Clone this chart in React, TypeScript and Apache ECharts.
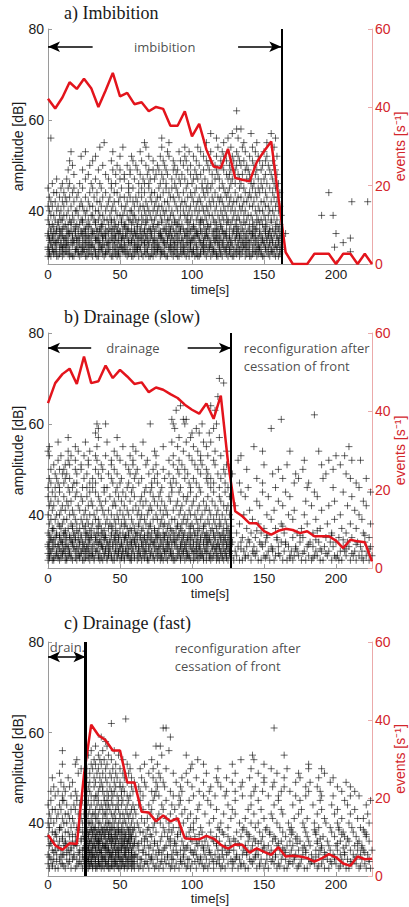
import React, { useEffect, useRef } from "react";
import * as echarts from "echarts";

// ---------- data ----------
const rateTimes = [0,5,10,15,20,25,30,35,40,45,50,55,60,65,70,75,80,85,90,95,100,105,110,115,120,125,130,135,140,145,150,155,160,165,170,175,180,185,190,195,200,205,210,215,220,225];

const rateA = [42.2,39.7,42.5,46.4,44.7,47.3,44.9,40.1,44.3,48.8,42.8,43.7,40.8,41.3,39,40.1,39.6,35.3,35.3,39,32.6,35.8,29.2,24.9,24.5,29.4,22,21.5,21.1,26,28.8,31.3,17,3,0,0,0,2.6,2.6,2.6,0,2.6,2.6,0,2.6,0];
const rateB = [42.1,47.2,49.5,50.9,47,54,47.2,47.7,51.7,48.5,50.6,48.9,47,47.4,44.9,46.1,45.5,44.4,43.4,41.7,40.4,39.4,42,38.1,44,27,14.5,13.2,11.4,11.4,9.4,8.5,9.5,10,9.7,8.9,9.4,8.1,8.1,8.1,7,5.1,7.2,6.8,6.6,1.7];
const rateC = [10.5,7.9,6.7,8.4,8.2,26,38.8,36.1,34.8,32.2,32.2,24,24,16.5,16.3,14,15.5,14,14.8,9.7,9.5,9.4,10.3,9.6,8,7,8.1,8,6,7.1,6.2,5.4,7.4,5,5.2,5,4.6,3.7,4.5,5.6,4.8,3.2,2.6,5,4.3,4.4];

// amplitude [dB] -> times [s] of the recorded events
const scatterRowsA: [number, number[]][] = [
[30,[0,2,6,7,10,15,17,18,22,26,27,31,34,35,39,44,45,48,50,55,58,59,63,66,70,71,73,78,82,83,87,90,91,96,98,102,104,105,110,113,117,118,121,125,128,129,133,137,140,141,145,149,150,154,158,160]],
[30.5,[1,4,8,11,14,16,21,23,28,30,33,38,40,43,47,49,54,56,60,65,68,72,75,79,81,86,89,93,95,100,103,106,109,114,117,120,124,127,131,134,138,142,146,148,153,157,161]],
[31,[1,4,5,9,12,13,19,21,24,25,29,33,36,40,41,46,49,52,53,57,61,62,67,69,74,76,79,80,85,88,92,94,97,100,101,106,108,111,115,116,120,123,126,130,132,135,139,143,144,148,152,155,156,161,210]],
[31.5,[0,3,6,10,15,19,20,25,27,32,35,37,42,45,48,52,55,59,62,64,69,73,76,78,84,87,90,94,98,101,104,108,112,115,119,123,126,129,133,137,140,145,147,151,155,159,162]],
[32,[0,3,8,10,11,14,20,23,24,28,30,32,37,38,43,47,50,51,54,60,62,64,68,72,75,77,81,84,86,89,93,95,99,103,107,109,112,114,119,122,124,127,131,134,136,138,142,146,147,151,153,157,159,162,199]],
[32.5,[2,5,9,12,13,17,22,26,29,31,36,39,41,46,50,53,57,61,63,67,70,74,77,82,85,88,92,96,99,103,107,110,113,118,121,125,128,132,136,139,143,146,150,154,158,161]],
[33,[2,5,6,9,13,16,18,21,25,27,30,35,36,41,42,45,48,53,56,58,60,65,67,70,73,76,80,81,85,88,90,94,97,99,102,106,108,113,116,118,121,125,127,132,135,137,140,144,148,150,154,156,160,205]],
[33.5,[1,4,7,11,14,18,20,24,28,33,34,38,43,46,49,51,56,58,62,66,69,73,75,80,83,87,91,93,98,100,105,108,112,116,119,122,127,130,134,138,141,145,149,152,156,160]],
[34,[1,3,7,11,12,17,20,22,26,29,33,34,38,40,44,47,51,52,55,59,63,64,68,71,74,78,79,83,86,89,93,96,100,101,105,109,111,115,117,120,124,126,130,133,136,139,143,146,149,152,155,159,161,210]],
[34.5,[0,3,8,10,13,17,21,25,27,30,35,38,40,45,47,52,54,59,61,65,68,72,77,79,84,86,90,95,97,102,104,109,111,116,118,123,126,131,133,137,142,144,148,153,155,159,162]],
[35,[0,4,5,9,14,15,19,23,24,28,31,32,37,39,42,46,49,50,54,57,61,62,66,69,72,77,78,82,84,88,91,95,98,103,104,107,110,114,119,122,123,128,131,134,138,141,142,147,151,153,157,162,165,200]],
[35.5,[2,6,9,14,16,19,23,26,31,34,36,41,44,48,50,55,58,60,64,67,71,74,78,82,85,89,92,96,99,103,106,110,115,117,121,124,129,132,136,140,143,147,151,154,158,161]],
[36,[2,6,8,10,13,18,21,25,26,30,34,36,40,43,45,48,52,55,56,60,64,67,70,71,75,80,81,85,87,92,94,97,100,102,106,109,112,116,118,121,126,129,132,135,139,144,145,150,154,156,160]],
[36.5,[4,11,19,28,37,46,53,62,73,84,91,101,111,120,131,142,151,159]],
[37,[1,3,7,12,14,16,20,22,27,29,33,37,38,42,47,49,53,54,58,62,65,68,73,76,77,82,86,89,90,93,98,101,105,108,111,113,117,120,124,127,130,134,137,140,143,147,149,152,158,161]],
[37.5,[7,16,24,33,44,51,59,68,79,88,97,106,116,125,136,145,155]],
[38,[0,5,9,10,15,18,23,24,28,32,35,39,41,44,46,51,56,57,61,63,66,69,72,74,79,83,84,88,91,96,99,103,106,107,110,115,119,122,125,128,131,133,138,142,146,148,151,155,159]],
[39,[2,4,8,11,13,17,21,26,30,31,36,38,43,48,50,52,55,59,60,65,68,71,75,78,81,85,87,92,95,97,100,104,109,112,114,118,121,124,129,132,136,139,141,145,150,153,157,162,190,198]],
[40,[1,6,9,14,19,20,25,27,33,35,40,44,47,53,57,58,63,67,70,73,76,80,82,86,90,94,98,102,105,108,111,116,120,123,127,130,134,137,144,147,149,154,156,160]],
[41,[0,3,7,11,16,22,24,29,31,37,41,45,51,54,60,64,66,69,74,77,79,84,89,92,96,99,103,107,110,113,117,122,125,128,133,135,140,142,146,151,153,158,161]],
[42,[2,5,10,13,18,23,28,34,36,42,46,49,55,59,62,68,72,75,81,83,88,93,95,101,104,106,112,115,119,121,126,129,131,136,138,143,148,150,155,159,211,222]],
[43,[1,8,12,15,20,26,32,38,43,50,53,57,61,65,71,76,78,85,87,91,97,100,105,109,114,118,120,124,127,132,134,139,141,145,152,157,160]],
[44,[4,6,11,17,21,29,34,40,46,48,56,63,67,72,74,80,84,90,94,99,102,108,111,116,123,125,130,137,140,144,147,151,156,161,195]],
[45,[0,9,14,18,24,31,37,44,51,56,59,65,70,77,82,86,89,96,103,107,110,113,119,122,126,133,136,142,146,149,154,158]],
[46,[3,10,15,22,30,36,44,47,56,63,67,70,78,82,88,92,97,100,107,111,114,121,127,130,134,141,143,148,152,157,160]],
[47,[6,13,26,33,42,50,53,60,66,71,74,80,86,91,95,101,104,109,116,119,125,128,133,138,141,146,150,156]],
[48,[18,28,40,47,53,57,64,69,75,79,83,89,93,99,103,106,114,118,124,126,132,135,140,144,151,155,159]],
[49,[14,24,35,45,50,57,62,70,73,77,82,87,90,97,102,108,112,117,122,127,130,137,139,145,148,154,158]],
[50,[17,29,38,48,55,61,68,76,81,88,94,99,105,111,116,121,126,131,134,138,143,149,153,157]],
[51,[15,31,44,59,65,73,80,87,92,96,103,110,113,120,124,129,133,136,142,147,151,156]],
[52,[23,33,50,58,70,78,84,95,101,108,117,122,128,132,140,146,152,159]],
[53,[16,26,45,64,83,91,98,106,113,121,131,137,144,150]],
[54,[36,52,68,79,95,104,118,127,135,142,157]],
[55,[39,67,84,110,122,136,145,152]],
[56,[2,79,117,125,132,158]],
[57,[113,128,141,155]],
[58,[131,134]],
[62,[131]],
];

const scatterRowsB: [number, number[]][] = [
[30,[0,3,4,8,12,13,17,20,24,25,29,32,36,38,41,45,46,50,53,57,58,62,65,69,70,74,78,80,83,87,88,92,95,99,101,104,108,110,113,117,119,122,125,129,133,135,141,146,148,154,157,163,166,170,176,179,183,189,191,197,202,204,210,214,219,223]],
[30.5,[1,4,7,9,13,16,19,22,26,28,32,35,37,41,44,48,51,53,57,60,63,67,69,73,76,79,82,86,89,92,96,98,102,105,108,112,114,118,121,124,127,137,151,168,184,200,218]],
[31,[1,5,7,10,14,16,21,22,27,30,31,35,39,42,44,48,51,55,56,60,64,66,71,73,77,79,84,86,90,93,97,98,103,106,107,112,115,118,121,124,127,131,137,139,144,150,152,158,161,168,171,174,181,185,187,194,199,201,207,212,216,221,225]],
[31.5,[0,2,6,10,12,15,20,23,25,29,31,36,39,42,46,49,52,55,58,62,64,68,71,75,78,81,85,87,91,94,97,101,104,107,110,113,117,120,123,126,143,160,177,193,211]],
[32,[2,6,9,11,15,19,23,26,28,33,34,40,43,47,49,52,54,59,63,67,68,72,76,81,82,85,91,94,96,100,102,105,109,111,116,120,123,126,130,136,142,145,153,156,164,169,173,178,186,190,195,203,206,213,218,222]],
[32.5,[1,3,8,11,14,18,21,24,27,30,34,38,40,43,47,50,54,56,59,63,66,70,74,77,80,83,86,90,93,96,100,103,106,109,114,116,119,122,125,134,156,172,189,207,223]],
[33,[0,4,7,12,14,18,20,25,27,31,37,38,42,45,50,52,57,61,63,66,70,75,77,80,84,89,92,95,99,103,105,110,114,117,119,124,126,132,138,143,149,155,160,167,172,180,184,192,198,205,209,217,224]],
[33.5,[0,5,7,10,13,17,22,25,28,32,35,37,41,45,48,51,55,58,61,65,68,71,73,78,82,84,88,92,95,98,101,105,108,111,115,118,121,124,127,148,165,181,214]],
[34,[1,3,9,10,16,17,22,24,29,34,36,41,43,47,51,55,58,60,65,68,73,74,79,83,86,88,93,96,101,104,108,111,113,118,122,125,128,134,140,147,151,162,165,175,182,188,196,200,208,215,220]],
[34.5,[2,4,9,12,16,19,21,26,29,33,36,39,43,46,49,53,57,60,62,66,69,72,76,80,83,87,89,93,97,99,103,106,110,112,116,120,123,126,139,159,186,205]],
[35,[2,5,8,13,15,19,23,28,30,33,39,40,46,49,53,54,59,64,67,71,75,78,81,85,90,94,97,100,106,109,112,116,120,123,127,135,144,152,159,170,177,193,202,211,223]],
[35.5,[1,6,8,11,15,18,23,27,30,34,37,40,44,47,50,54,56,61,64,67,70,75,77,81,84,88,91,94,98,102,104,109,111,115,119,122,125,152,175,197,220]],
[36,[0,6,11,12,18,21,26,27,32,35,38,44,48,52,56,61,62,69,72,76,80,82,87,91,95,99,102,107,110,115,118,121,126,131,141,148,164,173,184,197,207,219]],
[36.5,[3,12,20,29,39,47,58,65,74,86,93,104,113,124,145,187]],
[37,[3,4,9,14,17,22,25,30,34,37,42,45,50,55,57,60,66,70,74,77,83,85,89,92,98,101,105,108,114,117,122,125,138,150,158,176,189,204,214]],
[37.5,[8,17,26,35,44,53,63,71,80,90,99,108,119,127,163]],
[38,[1,7,10,16,20,24,28,31,36,40,43,47,51,54,59,63,68,71,78,81,84,90,93,96,100,104,109,112,116,120,124,133,146,162,180,194,210,224]],
[39,[2,5,11,13,19,23,27,33,35,41,46,49,53,58,64,67,73,76,79,86,88,94,97,103,106,111,115,119,123,127,142,155,170,186,199,218]],
[40,[0,6,8,15,18,25,29,32,39,44,48,52,56,62,65,69,75,80,83,91,95,99,102,107,113,117,121,126,136,152,167,178,203,216]],
[41,[3,9,12,17,22,26,34,38,42,50,55,59,63,70,72,78,82,87,92,98,104,109,112,118,124,140,157,171,190,213]],
[42,[1,4,10,14,21,28,31,37,45,47,53,61,66,71,76,81,89,93,100,105,110,116,122,125,130,147,163,183,195,208,221]],
[43,[2,7,13,16,24,30,36,40,46,51,57,64,68,74,79,85,90,96,101,108,114,120,145,160,179,199,219]],
[44,[0,5,11,19,23,27,35,43,49,54,60,65,73,77,84,94,97,103,111,119,126,137,153,168,187,211]],
[45,[3,8,15,20,29,33,39,47,52,58,67,71,78,86,91,99,106,115,123,134,149,165,185,205,224]],
[46,[0,5,8,14,17,24,27,31,39,41,48,55,59,68,72,79,86,92,99,105,113,119,125,139,158,180,198,216]],
[47,[2,7,11,18,20,29,33,45,50,56,63,72,76,85,89,98,103,111,115,123,133,149,171,181,214]],
[48,[1,6,12,15,25,31,37,44,51,60,65,74,81,87,95,101,110,113,120,145,163,174,191,210,221]],
[49,[5,10,13,20,27,35,42,48,57,61,70,76,84,91,97,106,111,118,123,128,156,172,193,207]],
[50,[2,8,11,19,23,33,38,46,56,62,73,80,90,95,104,110,122,138,160,177,198]],
[51,[4,12,15,23,28,37,44,54,59,68,75,87,93,102,107,116,124,150,166,190,203]],
[52,[7,14,19,28,34,44,50,59,69,84,91,100,106,115,132,178,195,211,217]],
[53,[1,9,16,25,33,40,48,57,65,75,87,98,106,111,120,134,200,206]],
[54,[0,14,21,29,46,61,74,94,104,116,124,149,168,188]],
[55,[1,19,34,52,59,80,90,101,110,143,209]],
[56,[7,26,41,66,86,96,108,113]],
[57,[14,35,48,91,99,119]],
[58,[33,100,105,112]],
[59,[35,88,103,115,155]],
[60,[34,40,71,87,95,107,117]],
[61,[86,94,96,162]],
[62,[185]],
[63,[89,116]],
[64,[92,113]],
[66,[118]],
[69,[122]],
[70,[119]],
];

const scatterRowsC: [number, number[]][] = [
[30,[1,5,7,12,16,19,24,27,28,31,33,34,37,39,42,43,46,49,50,53,55,58,60,63,66,70,74,77,80,85,88,91,96,99,103,108,111,115,120,123,128,132,137,139,145,150,153,159,164,166,173,178,180,187,192,195,202,207,209,216,221,224]],
[30.5,[3,11,20,26,29,31,34,36,38,41,44,45,48,51,53,56,59,64,75,86,97,109,121,134,147,161,174,188,203,217]],
[31,[0,3,9,10,14,21,23,26,29,30,32,35,36,40,41,44,47,48,52,54,57,59,62,67,69,73,78,82,84,89,93,95,100,105,107,112,117,119,125,129,134,136,142,147,151,157,160,167,170,175,182,185,190,197,200,205,211,214,220]],
[31.5,[6,15,22,27,28,30,33,35,37,40,42,46,47,50,52,55,58,60,68,79,92,102,115,128,141,155,168,183,196,210,223]],
[32,[2,4,8,13,17,20,25,27,28,30,33,35,38,39,42,45,46,50,51,55,56,59,64,65,71,72,76,81,86,87,92,97,98,104,106,110,114,118,122,127,130,133,140,143,148,152,156,162,165,171,176,181,184,191,194,199,204,208,213,218,223]],
[32.5,[1,9,18,24,26,28,31,32,35,38,39,43,44,48,49,52,54,57,59,62,72,83,94,106,119,131,144,158,171,186,199,214]],
[33,[0,6,10,11,15,18,22,26,29,31,32,34,37,40,43,44,47,49,53,54,58,60,61,68,70,75,79,83,86,90,94,101,103,109,113,116,121,124,131,135,138,144,146,154,158,163,168,172,177,183,188,193,198,203,206,212,217,222]],
[33.5,[4,13,21,27,29,30,34,36,37,41,43,45,47,50,53,56,58,66,77,89,100,112,125,138,152,165,179,192,206,220]],
[34,[3,5,9,14,16,22,24,27,28,30,33,36,37,41,42,45,48,49,51,54,56,58,63,66,73,77,80,87,92,95,99,102,108,112,118,121,126,129,136,141,145,149,155,161,164,169,174,179,186,189,196,201,210,215,219,225]],
[34.5,[7,16,25,26,28,31,33,35,39,40,42,46,48,51,54,55,59,70,81,96,108,123,137,150,163,177,190,205,218]],
[35,[1,7,11,13,18,20,26,28,31,32,35,38,39,40,44,46,50,52,53,57,59,62,67,71,76,82,85,89,94,97,104,107,111,117,123,127,133,137,142,150,153,159,166,170,178,182,190,195,200,207,213,218]],
[35.5,[2,12,19,27,29,32,34,36,38,41,44,47,49,52,55,57,60,63,74,88,103,117,132,146,160,173,187,201,215]],
[36,[2,4,8,12,17,23,27,29,30,34,35,36,41,43,45,47,51,53,55,56,60,65,69,74,78,84,88,93,100,105,109,115,119,126,130,139,144,148,156,162,168,175,181,187,194,203,209,216,223]],
[36.5,[10,23,26,30,33,35,37,40,43,45,48,50,53,56,58,67,85,99,114,129,143,158,172,189,208]],
[37,[0,6,10,15,19,25,26,28,32,33,37,39,42,44,46,48,52,54,57,58,61,68,72,79,83,90,96,102,110,117,125,134,140,149,157,165,173,180,191,199,206,214,221]],
[37.5,[5,17,28,31,34,36,39,42,44,47,51,54,57,71,90,105,122,139,154,169,186,204,221]],
[38,[3,5,12,14,21,24,27,29,31,34,36,38,40,43,47,49,50,53,56,59,64,66,75,81,86,92,98,107,113,121,131,138,147,154,163,170,179,186,197,205,212,220]],
[38.5,[8,21,27,30,32,35,38,41,43,46,49,52,56,59,69,84,101,119,135,151,168,185,202,219]],
[39,[1,8,9,16,20,22,26,30,32,33,37,39,41,44,45,48,51,55,57,60,63,70,73,80,87,91,99,106,118,125,136,144,152,161,169,178,188,196,202,211,217]],
[40,[0,4,11,13,18,24,28,29,31,35,36,40,42,43,46,49,52,54,58,62,67,74,78,84,94,101,112,120,133,141,146,159,167,177,185,193,201,209,223]],
[41,[2,6,10,15,17,23,26,27,30,33,34,38,41,45,47,50,53,56,59,65,69,76,82,89,97,103,115,127,137,150,156,171,180,192,204,215,219]],
[42,[1,7,12,14,21,25,28,31,32,35,39,40,44,46,50,52,55,57,61,71,77,85,93,99,109,122,130,143,155,163,174,187,199,210,222]],
[43,[3,5,9,16,19,26,29,33,36,38,41,43,47,49,54,58,60,66,72,80,88,95,104,117,128,139,148,162,176,190,201,213]],
[44,[0,8,13,18,22,27,30,34,37,40,42,45,48,51,55,59,63,70,79,86,91,105,113,125,141,157,170,184,197,208,221]],
[45,[2,10,11,20,24,28,32,35,39,41,44,49,52,56,64,73,82,92,98,111,130,146,160,175,189,206,224]],
[46,[5,10,16,20,26,30,33,34,39,42,45,48,51,55,57,66,74,77,87,91,101,108,116,123,135,141,153,160,172,179,190,198,210,216]],
[47,[2,7,12,19,27,29,35,38,41,44,46,51,53,59,64,72,75,85,93,105,112,124,130,143,149,162,168,181,189,204,213]],
[48,[4,11,15,28,32,36,38,43,47,50,52,58,63,68,76,81,92,100,113,120,134,144,156,164,179,187,201,210]],
[49,[9,17,26,29,33,37,41,46,50,55,60,67,75,80,89,97,108,118,128,135,150,157,172,182,196,207]],
[50,[3,14,27,32,36,40,44,48,53,58,65,73,78,93,103,117,124,140,150,164,175,188,198]],
[51,[8,21,29,34,38,43,47,52,56,70,77,87,96,110,130,146,159,174,192]],
[52,[23,27,31,35,40,45,50,57,64,73,82,99,118,141,155,166,181,190]],
[53,[10,19,30,33,37,41,47,55,67,76,100,108,128,150,181]],
[54,[20,32,36,39,44,52,72,104,134,143]],
[55,[28,35,42,49,61,79,96,142,164]],
[56,[10,30,38,46,84]],
[57,[33,41,75,78]],
[58,[40]],
[59,[37,85]],
[61,[80,82,157]],
[62,[44]],
[63,[54]],
];

// ---------- styles ----------
const RED = "#e3141c";
const RED_LABEL = "#d3262c";
const RED_AXIS = "#ebaaaa";
const GRAY = "#9a9a9a";
const TXT = "#1a1a1a";
const SANS = "Liberation Sans, Arial, sans-serif";
const ANN = "Open Sans, sans-serif";
const SERIF = "Liberation Serif, Times New Roman, serif";
const PLUS = "path://M0,5L10,5M5,0L5,10";
const AMP_MIN = 28.3;
const AMP_MAX = 80;

type Ann = { t: number; a: number; text: string; align: string };
type Arrow = { from: [number, number]; to: [number, number]; both?: boolean };

const panels: {
  title: string; titleTop: number; top: number; height: number;
  xNameGap: number; xLabelMargin: number;
  rows: [number, number[]][]; rate: number[]; front: number; frontWidth: number;
  texts: Ann[]; arrows: Arrow[];
}[] = [
  {
    title: "a) Imbibition", titleTop: 4, top: 29, height: 235, xNameGap: 19, xLabelMargin: 3,
    rows: scatterRowsA, rate: rateA, front: 162, frontWidth: 2,
    texts: [{ t: 81, a: 76.1, text: "imbibition", align: "center" }],
    arrows: [{ from: [31, 76.1], to: [0, 76.1] }, { from: [132, 76.1], to: [162, 76.1] }],
  },
  {
    title: "b) Drainage (slow)", titleTop: 308, top: 333, height: 235, xNameGap: 19, xLabelMargin: 3,
    rows: scatterRowsB, rate: rateB, front: 127, frontWidth: 2,
    texts: [
      { t: 59, a: 76.7, text: "drainage", align: "center" },
      { t: 136, a: 76.7, text: "reconfiguration after", align: "left" },
      { t: 136, a: 72.8, text: "cessation of front", align: "left" },
    ],
    arrows: [{ from: [30, 76.7], to: [0, 76.7] }, { from: [97, 76.7], to: [127, 76.7] }],
  },
  {
    title: "c) Drainage (fast)", titleTop: 614, top: 642, height: 234, xNameGap: 16, xLabelMargin: 1,
    rows: scatterRowsC, rate: rateC, front: 26, frontWidth: 3,
    texts: [
      { t: 13.5, a: 79, text: "drain.", align: "center" },
      { t: 88, a: 78.6, text: "reconfiguration after", align: "left" },
      { t: 88, a: 74.7, text: "cessation of front", align: "left" },
    ],
    arrows: [{ from: [0, 76.7], to: [26, 76.7], both: true }],
  },
];

function toPoints(rows: [number, number[]][]) {
  const out: number[][] = [];
  rows.forEach(([a, ts]) => ts.forEach((t) => out.push([t, a])));
  return out;
}

function buildOption() {
  const grid: any[] = [];
  const xAxis: any[] = [];
  const yAxis: any[] = [];
  const series: any[] = [];
  const title: any[] = [];

  panels.forEach((p, i) => {
    title.push({
      text: p.title, left: 64, top: p.titleTop, padding: 0,
      textStyle: { fontFamily: SERIF, fontSize: 18, fontWeight: "normal", color: TXT },
    });
    grid.push({
      left: 48, width: 324, top: p.top, height: p.height,
      containLabel: false, outerBoundsMode: "none",
    });
    xAxis.push({
      type: "value", gridIndex: i, min: 0, max: 225,
      name: "time[s]", nameLocation: "middle", nameGap: p.xNameGap, nameMoveOverlap: false,
      nameTextStyle: { fontFamily: SANS, fontSize: 13, color: TXT },
      axisLine: { show: true, onZero: false, lineStyle: { color: GRAY, width: 1 } },
      axisTick: { show: true, inside: true, length: 4, customValues: [0, 50, 100, 150, 200], lineStyle: { color: GRAY } },
      axisLabel: { customValues: [0, 50, 100, 150, 200], color: TXT, fontSize: 13.5, fontFamily: SANS, margin: p.xLabelMargin },
      splitLine: { show: false },
    });
    yAxis.push({
      type: "value", gridIndex: i, min: AMP_MIN, max: AMP_MAX, position: "left",
      name: "amplitude [dB]", nameLocation: "middle", nameGap: 23, nameRotate: 90, nameMoveOverlap: false,
      nameTextStyle: { fontFamily: SANS, fontSize: 14, color: TXT },
      axisLine: { show: true, lineStyle: { color: GRAY, width: 1 } },
      axisTick: { show: true, inside: true, length: 4, customValues: [40, 60, 80], lineStyle: { color: GRAY } },
      axisLabel: { customValues: [40, 60, 80], color: TXT, fontSize: 14, fontFamily: SANS, margin: 4 },
      splitLine: { show: false },
    });
    yAxis.push({
      type: "value", gridIndex: i, min: 0, max: 60, interval: 20, position: "right",
      name: "events [s⁻¹]", nameLocation: "middle", nameGap: 21, nameRotate: 90, nameMoveOverlap: false,
      nameTextStyle: { fontFamily: SANS, fontSize: 14, color: RED_LABEL },
      axisLine: { show: true, lineStyle: { color: RED_AXIS, width: 1 } },
      axisTick: { show: true, inside: true, length: 4, lineStyle: { color: RED_AXIS } },
      axisLabel: { color: RED_LABEL, fontSize: 14, fontFamily: SANS, margin: 3 },
      splitLine: { show: false },
    });

    series.push({
      type: "scatter", xAxisIndex: i, yAxisIndex: 2 * i,
      data: toPoints(p.rows),
      symbol: PLUS, symbolSize: 7,
      itemStyle: { color: "none", borderColor: "rgba(0,0,0,0.75)", borderWidth: 1 },
      silent: true, progressive: 0, z: 2,
      emphasis: { disabled: true },
    });
    series.push({
      type: "line", xAxisIndex: i, yAxisIndex: 2 * i + 1,
      data: rateTimes.map((t, k) => [t, p.rate[k]]),
      symbol: "none", showSymbol: false,
      lineStyle: { color: RED, width: 2.5 },
      silent: true, z: 4,
    });
    const mlData: any[] = p.arrows.map((ar) => [
      { coord: ar.from, symbol: ar.both ? "arrow" : "none" },
      { coord: ar.to, symbol: "arrow" },
    ]);
    mlData.push([
      { coord: [p.front, AMP_MIN], symbol: "none", lineStyle: { width: p.frontWidth, color: "#000" } },
      { coord: [p.front, AMP_MAX], symbol: "none" },
    ]);
    series.push({
      type: "scatter", xAxisIndex: i, yAxisIndex: 2 * i,
      data: p.texts.map((tx) => ({
        value: [tx.t, tx.a],
        label: {
          show: true, formatter: tx.text, position: "inside", align: tx.align, verticalAlign: "middle",
          color: TXT, fontSize: 13, fontFamily: ANN,
        },
      })),
      symbolSize: 1, itemStyle: { color: "rgba(0,0,0,0)" },
      silent: true, clip: false, z: 6,
      markLine: {
        silent: true, symbolSize: [8, 12], precision: 3,
        lineStyle: { color: "#000", width: 1.5, type: "solid" },
        label: { show: false },
        emphasis: { disabled: true },
        data: mlData,
      },
    });
  });

  return { animation: false, backgroundColor: "#fff", title, grid, xAxis, yAxis, series };
}

export default function App() {
  const ref = useRef<HTMLDivElement>(null);
  useEffect(() => {
    document.body.style.margin = "0";
    const chart = echarts.init(ref.current!, undefined, { renderer: "svg" });
    chart.setOption(buildOption() as any);
    return () => chart.dispose();
  }, []);
  return <div ref={ref} style={{ width: 409, height: 907 }} />;
}
